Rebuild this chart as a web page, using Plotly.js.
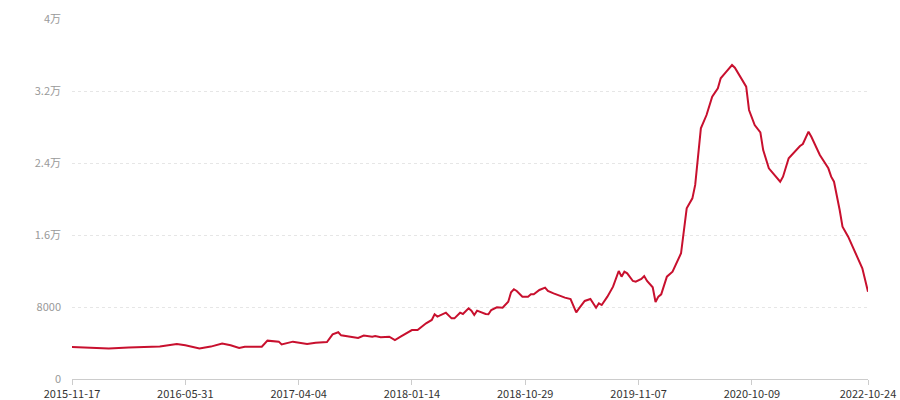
<!DOCTYPE html>
<html>
<head>
<meta charset="utf-8">
<script src="https://cdn.plot.ly/plotly-3.0.1.min.js"></script>
<style>html,body{margin:0;padding:0;background:#fff;}#chart{width:900px;height:400px;}</style>
</head>
<body>
<div id="chart"></div>
<script>
// category positions (index along the category axis) and values
const pointIndex = [0,6,13,20,28,31,37,40,45,49,53,56,59,61,67,69,73,74,78,81,83,86,89,90,92,94,95,99,101,103,106,107,109,112,114,116,118,119,120,122,125,127,128,129,132,134,135,137,138,140,141,142,143,146,147,148,150,152,154,155,156,157,159,161,162,163,165,167,168,170,172,174,176,178,179,181,183,185,186,187,189,191,193,194,195,196,198,199,201,202,203,205,206,207,208,210,212,213,215,217,219,220,222,224,226,228,229,231,233,234,236,238,239,241,243,244,246,250,251,253,257,258,260,261,264,267,268,269,271,272,274,276,278,279,281];
const values = [3550,3500,3400,3500,3590,3600,3900,3750,3400,3600,3950,3750,3440,3590,3590,4260,4150,3850,4150,4040,3890,4040,4150,4110,4960,5190,4850,4670,4560,4820,4700,4780,4630,4700,4330,4700,5050,5260,5440,5440,6190,6560,7190,6930,7370,6740,6740,7370,7220,7850,7590,7110,7590,7220,7190,7670,7960,7930,8590,9630,9960,9780,9150,9150,9410,9410,9890,10150,9780,9520,9260,9040,8890,7410,7850,8670,8890,7920,8410,8220,9150,10260,12000,11370,11920,11740,10890,10810,11110,11440,10890,10190,8560,9150,9410,11370,11920,12670,13970,18970,20070,21560,27850,29330,31370,32300,33410,34150,34890,34590,33590,32480,29890,28220,27410,25440,23410,21920,22480,24520,25890,26110,27480,26920,24890,23410,22480,21920,18780,16920,15810,14330,12850,12300,9700];
const xTickIndex = [0,40,80,120,160,200,240,281];
const xTickLabels = ['2015-11-17','2016-05-31','2017-04-04','2018-01-14','2018-10-29','2019-11-07','2020-10-09','2022-10-24'];
const yTickValues = [0,8000,16000,24000,32000,40000];
const yTickLabels = ['0','8000','1.6万','2.4万','3.2万','4万'];

const trace = {
  x: pointIndex,
  y: values,
  type: 'scatter',
  mode: 'lines',
  line: {color: '#c8102e', width: 2},
  hoverinfo: 'skip'
};

const layout = {
  width: 900,
  height: 400,
  margin: {l: 72, r: 32, t: 19, b: 21},
  paper_bgcolor: '#ffffff',
  plot_bgcolor: '#ffffff',
  showlegend: false,
  font: {family: '"Noto Sans CJK SC", "Noto Sans", sans-serif', size: 11, color: '#999'},
  xaxis: {
    range: [0, 281],
    tickmode: 'array',
    tickvals: xTickIndex,
    ticktext: xTickLabels,
    showgrid: false,
    zeroline: false,
    showline: true,
    linecolor: '#cccccc',
    linewidth: 1,
    ticks: 'outside',
    ticklen: 5,
    tickcolor: '#cccccc',
    tickfont: {size: 11, color: '#333'}
  },
  yaxis: {
    range: [0, 40000],
    tickmode: 'array',
    tickvals: yTickValues,
    ticktext: yTickLabels,
    showgrid: true,
    gridcolor: '#e6e6e6',
    griddash: '3px,3px',
    zeroline: false,
    showline: false,
    ticks: '',
    ticklabelstandoff: 10,
    tickfont: {size: 11, color: '#999'}
  }
};

Plotly.newPlot('chart', [trace], layout, {displayModeBar: false, staticPlot: true});
</script>
</body>
</html>
